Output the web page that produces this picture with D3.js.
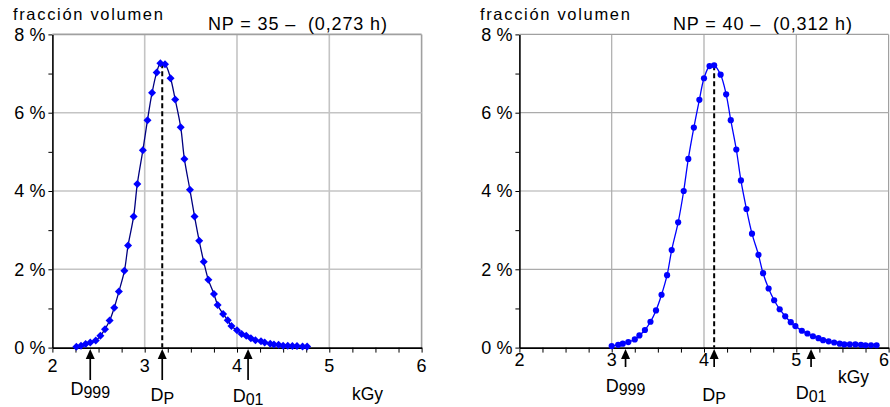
<!DOCTYPE html>
<html>
<head>
<meta charset="utf-8">
<script src="https://cdn.jsdelivr.net/npm/d3@7"></script>
<style>
  body { margin: 0; background: #fff; }
  text { font-family: "Liberation Sans", Arial, sans-serif; fill: #000; }
</style>
</head>
<body>
<div class="chart-container"></div>
<script>
// values (kGy, % of volume)
var xTickValues = [2, 3, 4, 5, 6];
var yTickValues = [0, 2, 4, 6, 8];

var dose35 = [2.26, 2.31, 2.36, 2.41, 2.47, 2.52, 2.57, 2.62, 2.67, 2.72,
  2.78, 2.82, 2.88, 2.92, 2.98, 3.03, 3.08, 3.13, 3.17, 3.22,
  3.28, 3.33, 3.39, 3.43, 3.49, 3.54, 3.59, 3.64, 3.69, 3.75,
  3.79, 3.85, 3.90, 3.94, 4.00, 4.05, 4.10, 4.15, 4.20, 4.26,
  4.30, 4.36, 4.40, 4.45, 4.50, 4.55, 4.60, 4.65, 4.71, 4.76];
var frac35 = [0.02, 0.05, 0.09, 0.13, 0.18, 0.30, 0.47, 0.69, 1.02, 1.43,
  1.96, 2.61, 3.35, 4.18, 5.04, 5.81, 6.51, 7.03, 7.26, 7.24,
  6.88, 6.34, 5.63, 4.82, 4.03, 3.35, 2.73, 2.19, 1.73, 1.37,
  1.09, 0.86, 0.70, 0.55, 0.44, 0.35, 0.30, 0.24, 0.19, 0.16,
  0.13, 0.10, 0.08, 0.07, 0.05, 0.05, 0.04, 0.04, 0.03, 0.03];

var dose40 = [3.00, 3.07, 3.12, 3.18, 3.25, 3.30, 3.36, 3.42, 3.48, 3.54,
  3.60, 3.65, 3.72, 3.78, 3.83, 3.89, 3.95, 4.00, 4.06, 4.11,
  4.18, 4.24, 4.29, 4.35, 4.40, 4.46, 4.52, 4.59, 4.64, 4.70,
  4.76, 4.82, 4.88, 4.94, 4.99, 5.06, 5.12, 5.18, 5.24, 5.29,
  5.35, 5.41, 5.47, 5.52, 5.58, 5.64, 5.70, 5.75, 5.81, 5.87];
var frac40 = [0.04, 0.07, 0.10, 0.14, 0.21, 0.31, 0.45, 0.66, 0.95, 1.35,
  1.85, 2.49, 3.20, 4.00, 4.82, 5.62, 6.33, 6.88, 7.19, 7.21,
  6.97, 6.47, 5.81, 5.06, 4.27, 3.54, 2.91, 2.37, 1.90, 1.51,
  1.21, 0.98, 0.80, 0.65, 0.55, 0.43, 0.36, 0.29, 0.24, 0.19,
  0.16, 0.13, 0.10, 0.08, 0.08, 0.08, 0.07, 0.06, 0.06, 0.06];

// D999, DP, D01 marks
var refSubs = ["999", "P", "01"];
var refDose35 = [2.41, 3.19, 4.12];
var refDose40 = [3.15, 4.11, 5.16];

var titles = ["NP = 35 \u2013\u00a0\u00a0(0,273 h)", "NP = 40 \u2013\u00a0\u00a0(0,312 h)"];
var yTitle = "fracción volumen";
var xUnit = "kGy";

var width = 890;
var height = 407;

var svg = d3.select('.chart-container')
  .append('svg')
  .attr('width', width)
  .attr('height', height)

var drawPanel = function (p) {
  var x = d3.scaleLinear().domain([2, 6]).range([p.left, p.left + 369.2]);
  var y = d3.scaleLinear().domain([0, 8]).range([347.6, 34.4]);
  var g = svg.append('g');

  // grid, the last ones act as the top / right frame
  g.selectAll('.vgrid')
    .data(xTickValues.slice(1))
    .enter()
    .append('line')
    .attr('x1', function (d) { return x(d); })
    .attr('x2', function (d) { return x(d); })
    .attr('y1', y(0))
    .attr('y2', y(8))
    .attr('stroke', function (d) { return d === 6 ? p.frame : p.grid; })
    .attr('stroke-width', p.gridWidth);

  g.selectAll('.hgrid')
    .data(yTickValues.slice(1))
    .enter()
    .append('line')
    .attr('x1', x(2))
    .attr('x2', x(6))
    .attr('y1', function (d) { return y(d); })
    .attr('y2', function (d) { return y(d); })
    .attr('stroke', function (d) { return d === 8 ? p.frame : p.grid; })
    .attr('stroke-width', p.gridWidth);

  // axes
  var xAxis = d3.axisBottom(x)
    .tickValues(d3.range(2, 6.001, 0.25))
    .tickSize(5)
    .tickSizeOuter(0)
    .tickFormat('');
  var gx = g.append('g')
    .attr('transform', 'translate(0,' + y(0) + ')')
    .call(xAxis);
  gx.select('.domain').attr('stroke', '#000').attr('stroke-width', 1.6);
  gx.selectAll('.tick line').attr('stroke', '#000').attr('stroke-width', 1);

  var yAxis = d3.axisLeft(y)
    .tickValues(d3.range(0, 8.001, 1))
    .tickSize(4)
    .tickSizeOuter(0)
    .tickPadding(3)
    .tickFormat(function (d) { return d % 2 === 0 ? d + ' %' : ''; });
  var gy = g.append('g')
    .attr('transform', 'translate(' + x(2) + ',0)')
    .call(yAxis)
    .attr('font-family', '"Liberation Sans", Arial, sans-serif')
    .attr('font-size', 18);
  gy.select('.domain').attr('stroke', '#000').attr('stroke-width', 1.6);
  gy.selectAll('.tick line').attr('stroke', '#000').attr('stroke-width', 1);

  g.selectAll('.xlab')
    .data(xTickValues)
    .enter()
    .append('text')
    .text(function (d) { return d; })
    .attr('x', function (d) { return Math.min(x(d), width - 6); })
    .attr('y', p.xLabelY)
    .attr('text-anchor', 'middle')
    .attr('font-size', 18);

  // titles
  g.append('text')
    .text(yTitle)
    .attr('x', p.left - 39.5)
    .attr('y', 20)
    .attr('font-size', 16.5)
    .attr('textLength', 150)
    .attr('lengthAdjust', 'spacing');

  g.append('text')
    .text(p.title)
    .attr('x', p.left + p.titleDx)
    .attr('y', 29.5)
    .attr('font-size', 18)
    .attr('textLength', 179)
    .attr('lengthAdjust', 'spacing');

  g.append('text')
    .text(xUnit)
    .attr('x', p.left + p.unitDx)
    .attr('y', p.unitY)
    .attr('font-size', 17.5);

  // peak line
  var peak = d3.max(p.frac);
  g.append('line')
    .attr('x1', x(p.refs[1]))
    .attr('x2', x(p.refs[1]))
    .attr('y1', y(peak))
    .attr('y2', y(0))
    .attr('stroke', '#000')
    .attr('stroke-width', 2)
    .attr('stroke-dasharray', '5,3');

  // curve
  var pts = p.dose.map(function (d, i) { return [d, p.frac[i]]; });
  var line = d3.line()
    .x(function (d) { return x(d[0]); })
    .y(function (d) { return y(d[1]); })
    .curve(d3.curveCatmullRom.alpha(0.5));

  g.append('path')
    .datum(pts)
    .attr('d', line)
    .attr('fill', 'none')
    .attr('stroke', p.lineColor)
    .attr('stroke-width', 1.3);

  if (p.marker === 'diamond') {
    g.selectAll('.pt')
      .data(pts)
      .enter()
      .append('path')
      .attr('d', d3.symbol(d3.symbolSquare, 32))
      .attr('transform', function (d) {
        return 'translate(' + x(d[0]) + ',' + y(d[1]) + ') rotate(45)';
      })
      .attr('fill', '#0000ff');
  } else {
    g.selectAll('.pt')
      .data(pts)
      .enter()
      .append('circle')
      .attr('cx', function (d) { return x(d[0]); })
      .attr('cy', function (d) { return y(d[1]); })
      .attr('r', 3.1)
      .attr('fill', '#0000ff');
  }

  // arrows with D labels
  p.refs.forEach(function (r, i) {
    var ax = x(r);
    var tip = y(0) + 1.5;
    g.append('line')
      .attr('x1', ax)
      .attr('x2', ax)
      .attr('y1', tip + 6)
      .attr('y2', p.arrowEnd)
      .attr('stroke', '#000')
      .attr('stroke-width', 1.7);
    g.append('path')
      .attr('d', 'M' + ax + ',' + tip + 'L' + (ax - 4.5) + ',' + (tip + 10) + 'L' + (ax + 4.5) + ',' + (tip + 10) + 'Z')
      .attr('fill', '#000');
    var t = g.append('text')
      .attr('x', ax)
      .attr('y', p.labelY[i])
      .attr('text-anchor', 'middle')
      .attr('font-size', 18);
    t.append('tspan').text('D');
    t.append('tspan').text(refSubs[i]).attr('font-size', 16).attr('dy', 3);
  });
}

drawPanel({
  left: 52.4,
  dose: dose35,
  frac: frac35,
  refs: refDose35,
  title: titles[0],
  titleDx: 155.6,
  marker: 'diamond',
  lineColor: '#000080',
  grid: '#c4c4c4',
  frame: '#a0a0a0',
  gridWidth: 1.6,
  xLabelY: 372,
  unitDx: 299.6,
  unitY: 400,
  arrowEnd: 380,
  labelY: [395, 401, 402]
});

drawPanel({
  left: 519.4,
  dose: dose40,
  frac: frac40,
  refs: refDose40,
  title: titles[1],
  titleDx: 153.6,
  marker: 'circle',
  lineColor: '#0000ff',
  grid: '#ababab',
  frame: '#a0a0a0',
  gridWidth: 1.2,
  xLabelY: 366,
  unitDx: 318.6,
  unitY: 383,
  arrowEnd: 367,
  labelY: [392, 401, 399]
});
</script>
</body>
</html>
